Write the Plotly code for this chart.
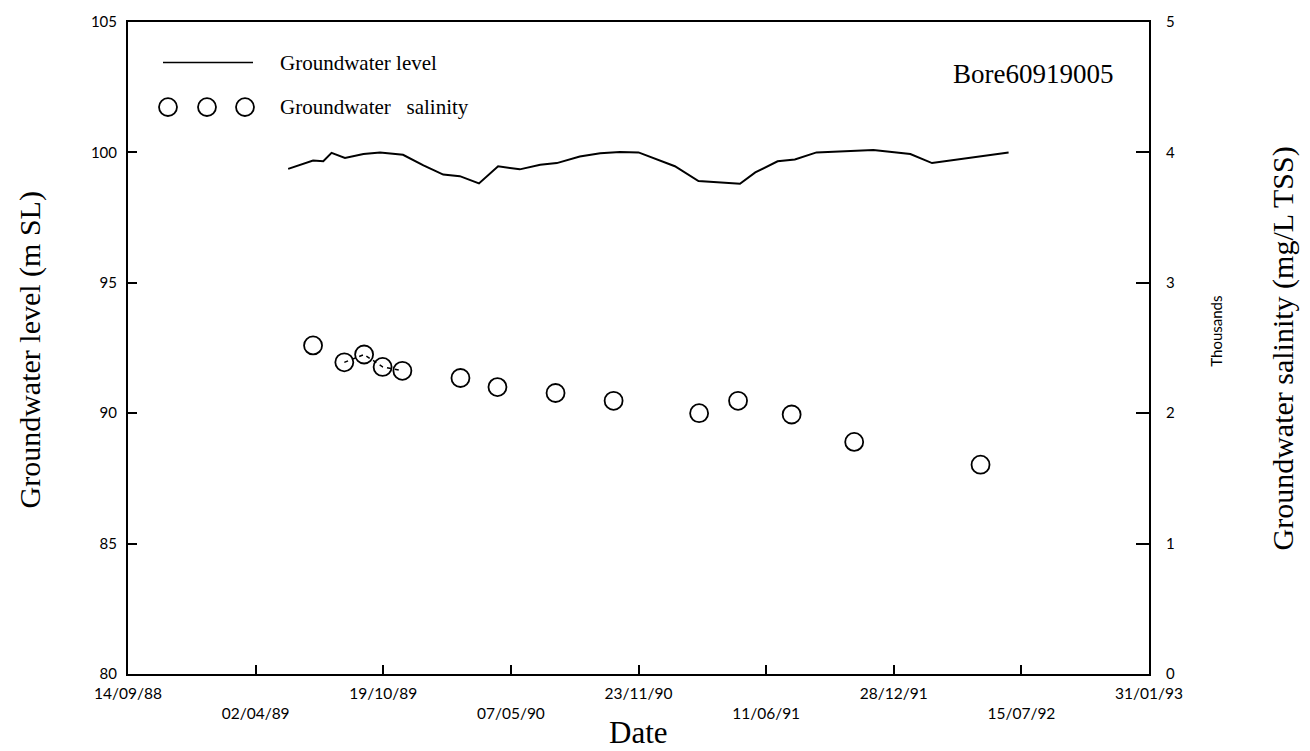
import plotly.graph_objects as go

# Groundwater level (m SL)
level_dates = [
    "1989-05-23", "1989-07-01", "1989-07-17", "1989-07-30", "1989-08-20",
    "1989-09-18", "1989-10-14", "1989-11-19", "1989-12-21", "1990-01-21",
    "1990-02-16", "1990-03-18", "1990-04-17", "1990-05-21", "1990-06-22",
    "1990-07-18", "1990-08-23", "1990-09-24", "1990-10-25", "1990-11-23",
    "1991-01-19", "1991-02-25", "1991-05-01", "1991-05-25", "1991-06-29",
    "1991-07-26", "1991-08-29", "1991-10-10", "1991-11-26", "1992-01-23",
    "1992-02-26", "1992-06-25",
]
level_values = [
    99.37, 99.69, 99.66, 99.98, 99.79,
    99.94, 100.00, 99.91, 99.50, 99.15,
    99.09, 98.81, 99.47, 99.35, 99.53,
    99.59, 99.84, 99.97, 100.02, 100.00,
    99.47, 98.90, 98.80, 99.23, 99.66,
    99.73, 100.00, 100.03, 100.09, 99.94,
    99.59, 100.00,
]

# Groundwater salinity (mg/L TSS)
sal_dates = [
    "1989-07-01", "1989-08-19", "1989-09-19", "1989-10-18", "1989-11-18",
    "1990-02-17", "1990-04-16", "1990-07-16", "1990-10-15", "1991-02-26",
    "1991-04-28", "1991-07-21", "1991-10-27", "1992-05-12",
]
sal_values = [
    2520, 2390, 2450, 2355, 2325,
    2270, 2200, 2155, 2095, 2000,
    2095, 1990, 1780, 1605,
]

x_tick_dates = [
    "1988-09-14", "1989-04-02", "1989-10-19", "1990-05-07", "1990-11-23",
    "1991-06-11", "1991-12-28", "1992-07-15", "1993-01-31",
]
x_tick_labels = [
    "14/09/88", "02/04/89", "19/10/89", "07/05/90", "23/11/90",
    "11/06/91", "28/12/91", "15/07/92", "31/01/93",
]
left_ticks = [80, 85, 90, 95, 100, 105]
right_ticks = [0, 1000, 2000, 3000, 4000, 5000]
right_tick_labels = ["0", "1", "2", "3", "4", "5"]

SANS = "Lato, 'DejaVu Sans', sans-serif"
SERIF = "'Liberation Serif', 'DejaVu Serif', serif"

W, H = 1310, 751
ML, MR, MT, MB = 128, 161, 15, 77

fig = go.Figure()
fig.add_trace(go.Scatter(
    x=level_dates, y=level_values, mode="lines",
    line=dict(color="black", width=2), name="Groundwater level",
    yaxis="y", showlegend=False,
))
fig.add_trace(go.Scatter(
    x=sal_dates[1:5], y=sal_values[1:5], mode="lines",
    line=dict(color="black", width=1.5, dash="4px,4px"),
    yaxis="y2", showlegend=False, hoverinfo="skip",
))
fig.add_trace(go.Scatter(
    x=sal_dates, y=sal_values, mode="markers",
    marker=dict(symbol="circle-open", size=18, color="black",
                line=dict(color="black", width=1.8)),
    name="Groundwater salinity", yaxis="y2", showlegend=False,
))

# alternating tick label rows
ticktext = [t if i % 2 == 0 else "<br>" + t for i, t in enumerate(x_tick_labels)]

fig.update_layout(
    width=W, height=H,
    margin=dict(l=ML, r=MR, t=MT, b=MB),
    paper_bgcolor="white", plot_bgcolor="white",
    font=dict(family=SANS, color="black", size=15),
    xaxis=dict(
        type="date", range=["1988-09-14", "1993-01-31"],
        tickvals=x_tick_dates, ticktext=ticktext,
        ticks="inside", ticklen=9, tickwidth=1.5, tickcolor="black",
        showgrid=False, zeroline=False,
        showline=True, linecolor="black", linewidth=2, mirror=True,
        tickfont=dict(family=SANS, size=15.5),
        ticklabelstandoff=4,
    ),
    yaxis=dict(
        range=[80, 105], tickvals=left_ticks,
        ticks="inside", ticklen=9, tickwidth=1.5, tickcolor="black",
        showgrid=False, zeroline=False,
        showline=True, linecolor="black", linewidth=2, mirror=True,
        tickfont=dict(family=SANS, size=15),
        ticklabelstandoff=6,
    ),
    yaxis2=dict(
        range=[0, 5000], overlaying="y", side="right",
        tickvals=right_ticks, ticktext=right_tick_labels,
        ticks="inside", ticklen=13, tickwidth=1.5, tickcolor="black",
        showgrid=False, zeroline=False, showline=False,
        tickfont=dict(family=SANS, size=15),
        ticklabelstandoff=16,
    ),
)


def px_to_paper(px, py):
    return ((px - ML) / (W - ML - MR), 1 - (py - MT) / (H - MT - MB))


annotations = [
    dict(text="Groundwater level (m SL)", x=30, y=347, textangle=-90,
         font=dict(family=SERIF, size=30)),
    dict(text="Groundwater salinity (mg/L TSS)", x=1283, y=345, textangle=-90,
         font=dict(family=SERIF, size=30)),
    dict(text="Thousands", x=1216, y=328, textangle=-90,
         font=dict(family=SANS, size=15)),
    dict(text="Date", x=638, y=733, font=dict(family=SERIF, size=31)),
    dict(text="Bore60919005", x=1033, y=68, font=dict(family=SERIF, size=27)),
    dict(text="Groundwater level", x=278, y=56, xanchor="left",
         font=dict(family=SERIF, size=21)),
    dict(text="Groundwater   salinity", x=278, y=101, xanchor="left",
         font=dict(family=SERIF, size=21)),
]
for a in annotations:
    nx, ny = px_to_paper(a["x"], a["y"])
    fig.add_annotation(
        text=a["text"], x=nx, y=ny,
        xref="paper", yref="paper", xanchor=a.get("xanchor", "center"),
        yanchor="middle", textangle=a.get("textangle", 0),
        showarrow=False, font=a["font"],
    )

# manual legend samples
x0, y0 = px_to_paper(163, 56)
x1, _ = px_to_paper(253, 56)
fig.add_shape(type="line", xref="paper", yref="paper", x0=x0, x1=x1, y0=y0, y1=y0,
              line=dict(color="black", width=1.5))
for cx in [168, 207, 245]:
    ax0, ay0 = px_to_paper(cx - 9, 101 - 9)
    ax1, ay1 = px_to_paper(cx + 9, 101 + 9)
    fig.add_shape(type="circle", xref="paper", yref="paper",
                  x0=ax0, x1=ax1, y0=ay1, y1=ay0,
                  line=dict(color="black", width=1.8))

fig.write_html("out.html")
